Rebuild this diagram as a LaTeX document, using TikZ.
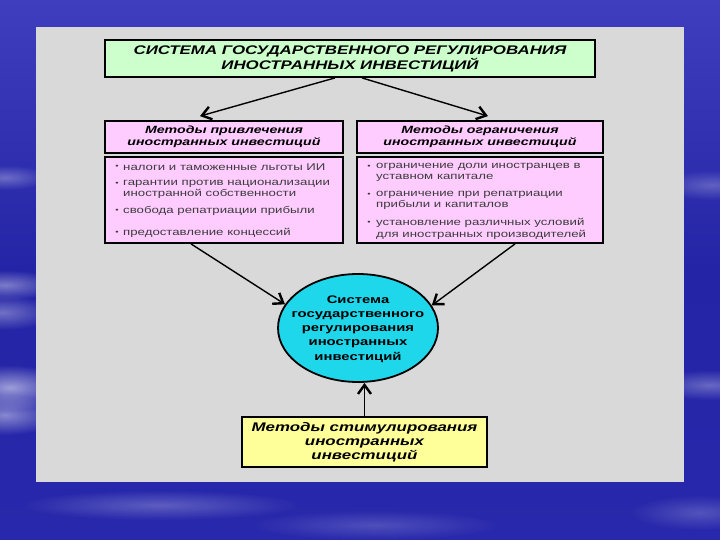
\documentclass[tikz,border=0pt]{standalone}
\usepackage{fontspec}
\setmainfont{Liberation Sans}[FakeStretch=1.35]
\usetikzlibrary{arrows.meta,shapes.geometric,calc,fadings}
\definecolor{bgtop}{RGB}{62,62,190}
\definecolor{bgmid}{RGB}{36,36,166}
\definecolor{bgbot}{RGB}{40,40,172}
\definecolor{panelgray}{RGB}{217,217,217}
\definecolor{tgreen}{RGB}{204,255,204}
\definecolor{tpink}{RGB}{255,204,255}
\definecolor{tcyan}{RGB}{30,215,235}
\definecolor{tyellow}{RGB}{255,255,153}
\definecolor{itemgray}{RGB}{60,60,60}
\tikzfading[name=softblob, inner color=transparent!0, outer color=transparent!100]
\tikzset{
  boxbase/.style={draw=black, line width=1.8pt, inner sep=0pt, align=center},
  titlebox/.style={boxbase, fill=tgreen, minimum width=490pt, minimum height=37pt,
    font=\bfseries\itshape\fontsize{12.5}{13}\selectfont},
  headbox/.style={boxbase, fill=tpink, minimum height=32pt,
    font=\bfseries\itshape\fontsize{10.5}{12}\selectfont},
  listbox/.style={boxbase, fill=tpink, minimum height=86pt},
  hubshape/.style={ellipse, draw=black, line width=1.8pt, fill=tcyan, inner sep=0pt,
    minimum width=160pt, minimum height=108pt},
  hubtext/.style={inner sep=0pt, align=center, font=\bfseries\fontsize{11}{14.2}\selectfont},
  stimbox/.style={boxbase, fill=tyellow, minimum width=245pt, minimum height=50pt,
    font=\bfseries\itshape\fontsize{12.5}{14}\selectfont},
  itemtext/.style={anchor=west, inner sep=0pt, align=left, text=itemgray,
    font=\fontsize{9.8}{11.5}\selectfont},
  bulletmark/.style={inner sep=0pt, text=itemgray, font=\fontsize{7}{7}\selectfont},
  conn/.style={line width=1.4pt, -{Straight Barb[length=9pt,width=13pt,line width=2.4pt]}},
  streak/.style={fill=white, path fading=softblob}
}
\begin{document}
\begin{tikzpicture}[x=1pt,y=-1pt]
\useasboundingbox (0,0) rectangle (720,540);
% background
\shade[top color=bgtop, bottom color=bgbot, middle color=bgmid] (0,0) rectangle (720,540);
\fill[streak, opacity=0.55] (-50,365) rectangle (70,410);
\fill[streak, opacity=0.45] (-50,395) rectangle (60,435);
\fill[streak, opacity=0.4] (-50,270) rectangle (60,300);
\fill[streak, opacity=0.35] (-50,295) rectangle (55,330);
\fill[streak, opacity=0.3] (-40,165) rectangle (50,190);
\fill[streak, opacity=0.25] (20,490) rectangle (300,520);
\fill[streak, opacity=0.18] (250,510) rectangle (500,540);
\fill[streak, opacity=0.3] (650,370) rectangle (770,400);
\fill[streak, opacity=0.25] (655,170) rectangle (770,200);
\fill[streak, opacity=0.2] (630,495) rectangle (770,530);
% panel
\fill[panelgray] (36,27) rectangle (684,482);

% nodes
\node[titlebox] (title) at (350,58.5) {СИСТЕМА ГОСУДАРСТВЕННОГО РЕГУЛИРОВАНИЯ\\ИНОСТРАННЫХ ИНВЕСТИЦИЙ};
\node[headbox, minimum width=238pt] (lhead) at (224,137) {Методы привлечения\\иностранных инвестиций};
\node[headbox, minimum width=246pt] (rhead) at (480,137) {Методы ограничения\\иностранных инвестиций};
\node[listbox, minimum width=238pt] (llist) at (224,200) {};
\node[listbox, minimum width=246pt] (rlist) at (480,200) {};
\node[hubshape] (hub) at (358,328) {};
\node[hubtext] (hubt) at (358,329) {Система\\государственного\\регулирования\\иностранных\\инвестиций};
\node[stimbox] (stim) at (364.5,442) {Методы стимулирования\\иностранных\\инвестиций};

% left list items
\node[bulletmark] (lb1) at (117,167) {•};
\node[itemtext] (li1) at (123,167) {налоги и таможенные льготы ИИ};
\node[bulletmark] (lb2) at (117,183.5) {•};
\node[itemtext] (li2) at (123,189.25) {гарантии против национализации\\иностранной собственности};
\node[bulletmark] (lb3) at (117,211) {•};
\node[itemtext] (li3) at (123,211) {свобода репатриации прибыли};
\node[bulletmark] (lb4) at (117,233) {•};
\node[itemtext] (li4) at (123,233) {предоставление концессий};

% right list items
\node[bulletmark] (rb1) at (369,167) {•};
\node[itemtext] (ri1) at (376,172.5) {ограничение доли иностранцев в\\уставном капитале};
\node[bulletmark] (rb2) at (369,195) {•};
\node[itemtext] (ri2) at (376,200.5) {ограничение при репатриации\\прибыли и капиталов};
\node[bulletmark] (rb3) at (369,223) {•};
\node[itemtext] (ri3) at (376,228.75) {установление различных условий\\для иностранных производителей};

% connectors
\draw[conn] ($(title.south)+(-15,0)$) -- ($(lhead.north)+(-24,-4)$);
\draw[conn] ($(title.south)+(12,0)$) -- ($(rhead.north)+(8,-4)$);
\draw[conn] ($(llist.south)+(-33,0)$) -- (hub.162);
\draw[conn] ($(rlist.south)+(35,0)$) -- (hub.17);
\draw[conn] (stim.north) -- (stim.north |- hub.south);
\end{tikzpicture}
\end{document}
